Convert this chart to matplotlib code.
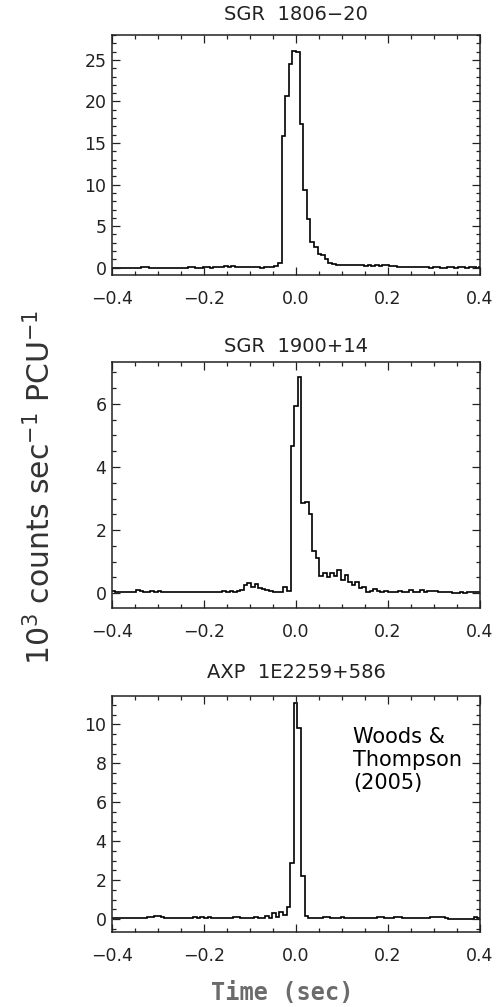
import numpy as np
import matplotlib.pyplot as plt
from matplotlib.ticker import MultipleLocator

plt.rcParams['font.family'] = ['DejaVu Sans']
plt.rcParams['mathtext.default'] = 'regular'

bin_w = 1.0 / 128  # sec

# SGR 1806-20, bins k/128 .. (k+1)/128, k = -52 .. 51
sgr1806_first = -52.0
sgr1806 = [0.00, 0.01, 0.00, 0.00, 0.02, 0.00, 0.01, 0.00,
           0.00, 0.03, 0.05, 0.02, 0.00, 0.01, 0.00, 0.02,
           0.00, 0.01, 0.00, 0.00, 0.02, 0.00, 0.05, 0.03,
           0.02, 0.00, 0.03, 0.05, 0.02, 0.03, 0.05, 0.08,
           0.15, 0.12, 0.15, 0.12, 0.10, 0.05, 0.05, 0.03,
           0.05, 0.03, 0.02, 0.05, 0.10, 0.12, 0.20, 0.55,
           15.9, 20.6, 24.5, 26.1, 25.95, 17.3, 9.4, 5.9,
           3.1, 2.5, 1.7, 1.5, 1.0, 0.55, 0.45, 0.38,
           0.35, 0.32, 0.30, 0.35, 0.30, 0.30, 0.28, 0.25,
           0.30, 0.25, 0.30, 0.20, 0.30, 0.35, 0.20, 0.15,
           0.12, 0.10, 0.10, 0.08, 0.05, 0.05, 0.03, 0.05,
           0.05, 0.02, 0.03, 0.05, 0.02, 0.02, 0.05, 0.03,
           0.02, 0.05, 0.03, 0.02, 0.05, 0.03, 0.02, 0.03]

# SGR 1900+14, bins centred on j/128, j = -51 .. 51
sgr1900_first = -51.5
sgr1900 = [0.08, 0.04, 0.04, 0.03, 0.05, 0.05, 0.04, 0.10,
           0.06, 0.05, 0.05, 0.06, 0.05, 0.06, 0.03, 0.05,
           0.05, 0.04, 0.05, 0.03, 0.03, 0.03, 0.03, 0.03,
           0.03, 0.05, 0.05, 0.04, 0.05, 0.04, 0.05, 0.06,
           0.04, 0.06, 0.05, 0.08, 0.10, 0.25, 0.32, 0.20,
           0.28, 0.15, 0.12, 0.10, 0.08, 0.05, 0.05, 0.05,
           0.18, 0.08, 4.67, 5.92, 6.85, 2.85, 2.90, 2.52,
           1.35, 1.11, 0.53, 0.63, 0.50, 0.63, 0.53, 0.72,
           0.42, 0.58, 0.34, 0.26, 0.34, 0.16, 0.20, 0.05,
           0.08, 0.12, 0.06, 0.05, 0.08, 0.05, 0.04, 0.05,
           0.08, 0.04, 0.05, 0.09, 0.04, 0.05, 0.10, 0.05,
           0.06, 0.08, 0.06, 0.05, 0.04, 0.05, 0.05, 0.02,
           0.02, 0.04, 0.02, 0.05, 0.04, 0.05, 0.05]

# AXP 1E2259+586, j = -51 .. 51
axp_first = -51.6
axp = [0.05, 0.06, 0.05, 0.05, 0.03, 0.04, 0.04, 0.05,
       0.04, 0.03, 0.10, 0.10, 0.17, 0.17, 0.10, 0.03,
       0.03, 0.04, 0.03, 0.03, 0.03, 0.04, 0.03, 0.10,
       0.03, 0.12, 0.03, 0.10, 0.03, 0.03, 0.04, 0.03,
       0.03, 0.03, 0.08, 0.12, 0.05, 0.05, 0.04, 0.05,
       0.10, 0.06, 0.06, 0.15, 0.05, 0.30, 0.10, 0.35,
       0.20, 0.63, 2.90, 11.1, 9.8, 2.2, 0.17, 0.05,
       0.05, 0.05, 0.05, 0.10, 0.10, 0.05, 0.05, 0.05,
       0.08, 0.05, 0.05, 0.04, 0.05, 0.05, 0.05, 0.05,
       0.05, 0.04, 0.10, 0.10, 0.05, 0.05, 0.05, 0.08,
       0.10, 0.05, 0.05, 0.03, 0.03, 0.03, 0.03, 0.03,
       0.03, 0.10, 0.10, 0.10, 0.10, 0.07, 0.02, 0.02,
       0.02, 0.02, 0.02, 0.02, 0.02, 0.10, 0.05]

titles = ['SGR  1806\u221220', 'SGR  1900+14', 'AXP  1E2259+586']
ylims = [(-0.88, 28.0), (-0.47, 7.33), (-0.67, 11.46)]
ymajor = [5, 2, 2]
yminor = [1, 0.5, 0.5]
title_pads = [11, 7, 13]

W, H = 504, 1007
fig = plt.figure(figsize=(W / 100, H / 100), dpi=100)
boxes = [(35, 275), (362, 608), (696, 932)]  # top, bottom in pixels

series = [(sgr1806_first, sgr1806), (sgr1900_first, sgr1900), (axp_first, axp)]
for i, (first, vals) in enumerate(series):
    top, bot = boxes[i]
    ax = fig.add_axes([112 / W, 1 - bot / H, 368 / W, (bot - top) / H])
    edges = (first + np.arange(len(vals) + 1)) * bin_w
    ax.stairs(vals, edges, baseline=None, color='black', lw=1.2)
    ax.set_xlim(-0.4, 0.4)
    ax.set_ylim(*ylims[i])
    ax.xaxis.set_major_locator(MultipleLocator(0.2))
    ax.xaxis.set_minor_locator(MultipleLocator(0.05))
    ax.yaxis.set_major_locator(MultipleLocator(ymajor[i]))
    ax.yaxis.set_minor_locator(MultipleLocator(yminor[i]))
    ax.xaxis.set_major_formatter(plt.FuncFormatter(lambda v, p: f'{v:.1f}'.replace('-', '\u2212')))
    ax.tick_params(which='both', direction='in', top=True, right=True,
                   labelsize=12.5, colors='#222222', width=0.9)
    ax.tick_params(which='major', length=6)
    ax.tick_params(which='minor', length=3)
    ax.tick_params(axis='x', pad=11)
    ax.tick_params(axis='y', pad=4)
    for s in ax.spines.values():
        s.set_linewidth(1.1)
        s.set_color('#222222')
    ax.set_title(titles[i], fontsize=14, color='#222222', pad=title_pads[i])
    if i == 2:
        ax.text(0.655, 0.87, 'Woods &\nThompson\n(2005)', transform=ax.transAxes,
                ha='left', va='top', fontsize=15, linespacing=1.2, color='black')

fig.text(40 / W, 1 - 487 / H, '10$^3$ counts sec$^{-1}$ PCU$^{-1}$', rotation=90,
         ha='center', va='center', fontsize=21.5, color='#333333')
fig.text(282 / W, 1 - 993 / H, 'Time (sec)', ha='center', va='center',
         fontsize=17, fontweight='bold', family='DejaVu Sans Mono', color='#6b6b6b')

plt.savefig('out.png', dpi=100)
